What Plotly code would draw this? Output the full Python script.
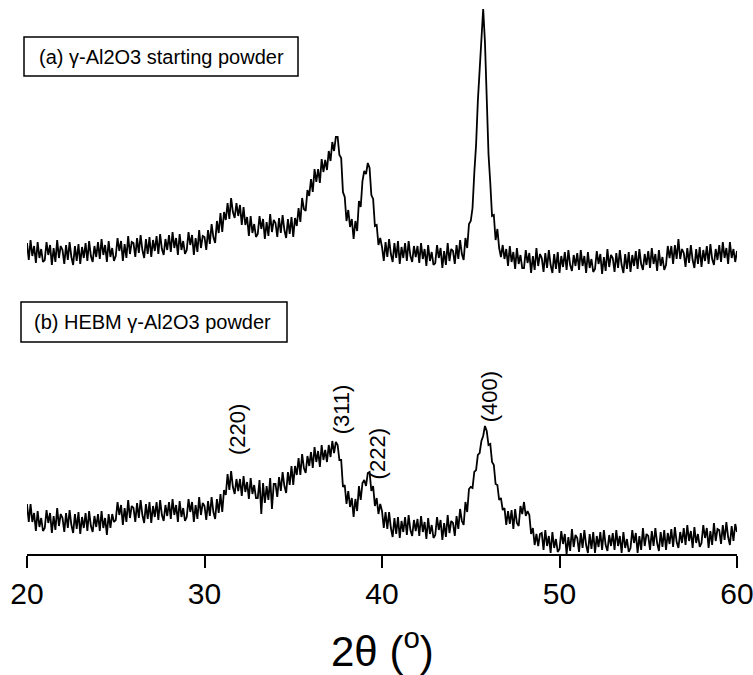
import numpy as np
import plotly.graph_objects as go

# --- data: XRD intensity (arbitrary units, stacked) sampled every 0.1 deg from 20 to 60 deg 2theta
scan_start = 20.0
scan_step = 0.1

# (a) gamma-Al2O3 starting powder (offset trace)
intensity_a = [
    311, 294, 314, 298, 308, 291, 312, 296, 305, 292,
    294, 312, 299, 309, 289, 306, 292, 314, 296, 308,
    304, 290, 309, 294, 312, 297, 289, 308, 293, 310,
    290, 307, 296, 311, 293, 313, 298, 292, 308, 297,
    312, 295, 315, 299, 309, 292, 313, 297, 306, 293,
    298, 316, 303, 313, 293, 310, 296, 318, 300, 312,
    311, 297, 316, 301, 319, 304, 296, 315, 300, 317,
    297, 314, 303, 318, 300, 320, 305, 299, 315, 304,
    319, 302, 322, 306, 316, 299, 320, 304, 313, 300,
    304, 322, 309, 319, 299, 316, 302, 324, 306, 318,
    317, 304, 324, 310, 330, 317, 311, 333, 321, 341,
    322, 342, 334, 351, 335, 356, 342, 336, 351, 338,
    349, 329, 347, 329, 337, 318, 338, 321, 330, 317,
    320, 338, 325, 335, 315, 332, 318, 340, 322, 334,
    331, 317, 336, 321, 339, 324, 316, 335, 320, 337,
    317, 336, 328, 346, 332, 356, 345, 343, 364, 358,
    375, 362, 385, 372, 385, 371, 395, 382, 394, 384,
    403, 393, 412, 403, 417, 417, 399, 396, 362, 357,
    333, 344, 327, 335, 315, 333, 323, 353, 347, 373,
    383, 380, 391, 386, 359, 355, 328, 329, 309, 316,
    307, 293, 312, 297, 315, 300, 292, 311, 296, 313,
    290, 307, 296, 311, 293, 313, 298, 292, 308, 297,
    308, 291, 311, 295, 305, 288, 309, 293, 302, 289,
    291, 309, 296, 306, 286, 303, 289, 311, 293, 305,
    303, 290, 309, 295, 314, 300, 294, 316, 306, 330,
    333, 346, 381, 409, 453, 487, 523, 545, 512, 458,
    400, 371, 338, 339, 314, 325, 306, 297, 309, 295,
    305, 288, 308, 292, 302, 285, 306, 290, 299, 286,
    286, 304, 291, 301, 281, 298, 284, 306, 288, 300,
    296, 282, 301, 286, 304, 289, 281, 300, 285, 302,
    281, 298, 287, 302, 284, 304, 289, 283, 299, 288,
    301, 284, 304, 288, 298, 281, 302, 286, 295, 282,
    285, 303, 290, 300, 280, 297, 283, 305, 287, 299,
    296, 282, 301, 286, 304, 289, 281, 300, 285, 302,
    282, 299, 288, 303, 285, 305, 290, 284, 300, 289,
    303, 286, 306, 290, 300, 283, 304, 288, 297, 284,
    289, 308, 296, 308, 290, 309, 295, 315, 295, 305,
    301, 287, 306, 291, 309, 294, 286, 305, 290, 307,
    287, 304, 293, 308, 290, 310, 295, 289, 305, 294,
    309, 292, 312, 296, 306, 290, 312, 296, 305, 292,
    303,
]

# (b) HEBM gamma-Al2O3 powder
intensity_b = [
    50, 32, 50, 32, 41, 23, 43, 27, 36, 23,
    26, 44, 31, 41, 21, 38, 24, 46, 28, 40,
    36, 22, 41, 26, 44, 29, 21, 40, 25, 42,
    20, 37, 26, 41, 23, 43, 28, 22, 38, 27,
    40, 23, 43, 26, 36, 19, 40, 26, 40, 32,
    34, 52, 39, 49, 29, 46, 32, 54, 36, 48,
    46, 32, 51, 36, 54, 39, 31, 50, 35, 52,
    31, 48, 37, 52, 34, 54, 39, 33, 49, 38,
    52, 35, 55, 39, 49, 32, 53, 37, 46, 33,
    37, 55, 42, 52, 32, 49, 35, 57, 39, 51,
    48, 34, 53, 38, 57, 42, 35, 55, 41, 60,
    42, 64, 59, 80, 64, 83, 67, 60, 75, 63,
    75, 58, 78, 62, 72, 55, 76, 60, 69, 56,
    56, 74, 40, 71, 51, 68, 54, 76, 45, 70,
    70, 57, 77, 63, 82, 68, 61, 82, 69, 88,
    69, 88, 79, 96, 79, 100, 86, 81, 98, 88,
    102, 86, 107, 92, 103, 87, 109, 94, 104, 92,
    109, 97, 113, 101, 112, 109, 94, 94, 67, 69,
    50, 63, 47, 56, 37, 55, 43, 68, 54, 71,
    74, 68, 81, 82, 63, 68, 48, 56, 40, 50,
    43, 26, 42, 25, 42, 26, 17, 36, 20, 37,
    16, 33, 22, 37, 19, 39, 24, 18, 34, 23,
    35, 18, 38, 22, 32, 15, 36, 20, 29, 16,
    19, 37, 24, 34, 14, 31, 17, 39, 21, 33,
    31, 18, 38, 25, 45, 33, 29, 52, 42, 65,
    67, 66, 82, 84, 99, 101, 113, 118, 128, 123,
    109, 110, 92, 89, 70, 69, 54, 56, 44, 46,
    29, 43, 30, 44, 25, 45, 31, 28, 48, 40,
    52, 38, 43, 39, 20, 26, 9, 20, 8, 20,
    21, 4, 24, 8, 18, 1, 22, 6, 15, 2,
    5, 23, 10, 20, 0, 17, 3, 25, 7, 19,
    16, 2, 21, 6, 24, 9, 1, 20, 5, 22,
    1, 18, 7, 22, 4, 24, 9, 3, 19, 8,
    21, 4, 24, 8, 18, 1, 22, 6, 15, 2,
    6, 24, 11, 21, 1, 18, 4, 26, 8, 20,
    18, 4, 23, 8, 26, 11, 3, 22, 7, 24,
    4, 21, 10, 25, 7, 27, 12, 6, 22, 11,
    26, 9, 29, 13, 23, 6, 27, 11, 20, 7,
    11, 29, 16, 26, 6, 23, 9, 31, 13, 25,
    24, 10, 29, 14, 32, 17, 9, 28, 13, 30,
    22,
]

tick_vals = [20, 30, 40, 50, 60]
tick_text = ["20", "30", "40", "50", "60"]

peak_labels = ["(220)", "(311)", "(222)", "(400)"]
peak_pos = [31.83, 37.71, 39.74, 46.04]
peak_label_y = [125, 145, 100, 157]

label_a = "(a) γ-Al2O3 starting powder"
label_b = "(b) HEBM γ-Al2O3 powder"

two_theta_a = np.round(scan_start + scan_step * np.arange(len(intensity_a)), 2)
two_theta_b = np.round(scan_start + scan_step * np.arange(len(intensity_b)), 2)

# --- layout geometry (pixels)
W, H = 753, 675
L, R, T, B = 27, 16, 5, 121
pw, ph = W - L - R, H - T - B


def px(x):
    return (x - L) / pw


def py(y):
    return (H - B - y) / ph


FONT = "Liberation Sans, Arial, Helvetica, sans-serif"

fig = go.Figure()
for xs, ys in ((two_theta_a, intensity_a), (two_theta_b, intensity_b)):
    fig.add_trace(go.Scatter(x=xs, y=ys, mode="lines",
                             line=dict(color="black", width=1.8),
                             hoverinfo="skip"))

fig.update_layout(
    width=W, height=H,
    margin=dict(l=L, r=R, t=T, b=B, autoexpand=False),
    plot_bgcolor="white", paper_bgcolor="white",
    showlegend=False,
    font=dict(family=FONT, color="black"),
)
fig.update_xaxes(range=[20, 60], tickvals=tick_vals, ticktext=tick_text,
                 ticks="outside", ticklen=12, tickwidth=2, tickcolor="black",
                 showline=True, linewidth=2, linecolor="black",
                 showgrid=False, zeroline=False, automargin=False,
                 ticklabeloverflow="allow",
                 tickfont=dict(size=30, family=FONT, color="black"))
fig.update_yaxes(range=[0, ph], visible=False, showgrid=False, zeroline=False,
                 automargin=False)

# axis title
fig.add_annotation(text="2θ (<sup>o</sup>)", xref="paper", yref="paper",
                   x=px(382), y=py(648), xanchor="center", yanchor="middle",
                   showarrow=False, font=dict(size=42, family=FONT, color="black"))

# boxed series labels
for (x0, y0, x1, y1, tx, ty, txt) in [
    (24, 37, 298, 76, 37, 57, label_a),
    (21, 302, 287, 342, 32, 322, label_b),
]:
    fig.add_shape(type="rect", xref="paper", yref="paper",
                  x0=px(x0), x1=px(x1), y0=py(y1), y1=py(y0),
                  line=dict(color="black", width=1.5), fillcolor="rgba(0,0,0,0)")
    fig.add_annotation(text=txt, xref="paper", yref="paper",
                       x=px(tx), y=py(ty), xanchor="left", yanchor="middle",
                       showarrow=False, font=dict(size=20, family=FONT, color="black"))

# peak indices
for lab, xp, yp in zip(peak_labels, peak_pos, peak_label_y):
    fig.add_annotation(text=lab, x=xp, y=yp, xref="x", yref="y",
                       textangle=-90, xanchor="center", yanchor="middle",
                       showarrow=False, font=dict(size=22, family=FONT, color="black"))

fig.write_html("out.html", config={"displayModeBar": False},
               post_script="document.body.style.margin='0';document.body.style.overflow='hidden';")
